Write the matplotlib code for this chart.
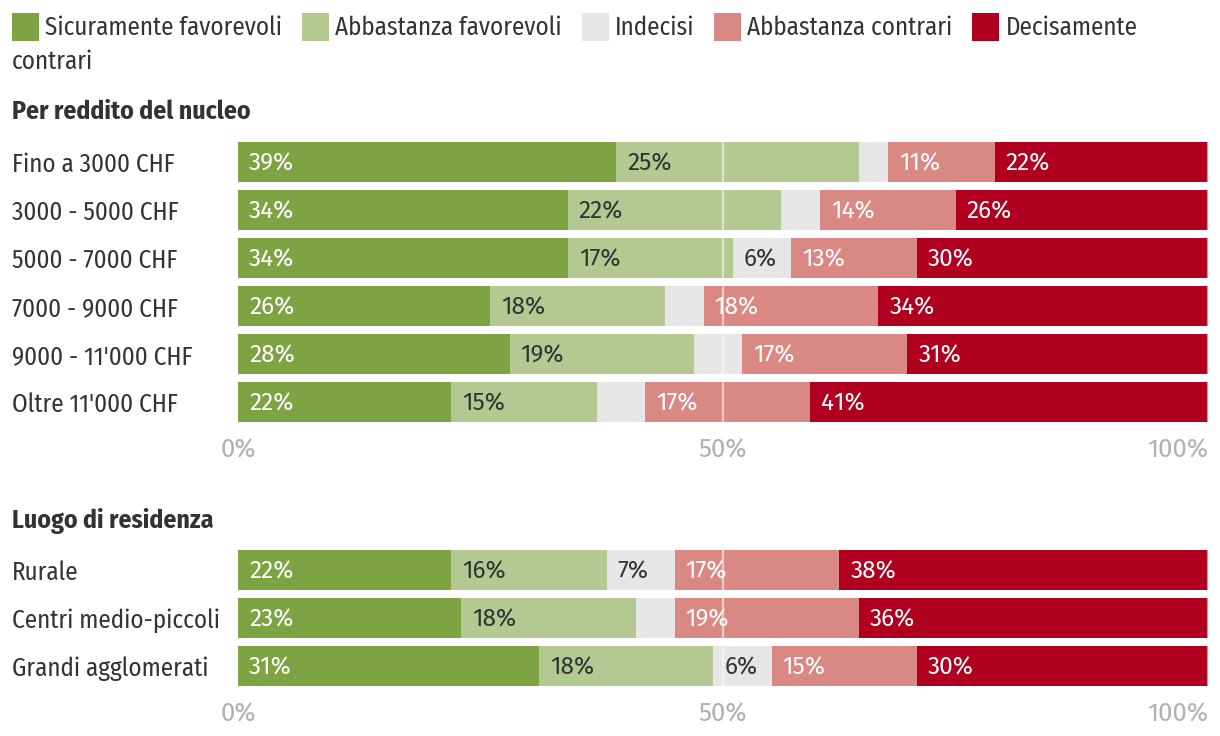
import matplotlib
matplotlib.use("Agg")
import matplotlib.pyplot as plt
from matplotlib.patches import Rectangle
from matplotlib.transforms import ScaledTranslation

plt.rcParams['font.family'] = ['Fira Sans Condensed', 'DejaVu Sans']
NUM_FONT = ['Fira Sans', 'DejaVu Sans']

# ---------------- data ----------------
series_names = ["Sicuramente favorevoli", "Abbastanza favorevoli", "Indecisi",
                "Abbastanza contrari", "Decisamente contrari"]
colors = ["#7ea343", "#b3c991", "#e6e6e6", "#da8884", "#b1001f"]
text_colors = ["white", "#333333", "#333333", "white", "white"]

income_title = "Per reddito del nucleo"
income_labels = ["Fino a 3000 CHF", "3000 - 5000 CHF", "5000 - 7000 CHF",
                 "7000 - 9000 CHF", "9000 - 11'000 CHF", "Oltre 11'000 CHF"]
income_sicuramente = [39, 34, 34, 26, 28, 22]
income_abb_favorevoli = [25, 22, 17, 18, 19, 15]
income_indecisi = [3, 4, 6, 4, 5, 5]
income_abb_contrari = [11, 14, 13, 18, 17, 17]
income_decisamente = [22, 26, 30, 34, 31, 41]

place_title = "Luogo di residenza"
place_labels = ["Rurale", "Centri medio-piccoli", "Grandi agglomerati"]
place_sicuramente = [22, 23, 31]
place_abb_favorevoli = [16, 18, 18]
place_indecisi = [7, 4, 6]
place_abb_contrari = [17, 19, 15]
place_decisamente = [38, 36, 30]

tick_values = [0, 50, 100]
tick_labels = ["0%", "50%", "100%"]

# ---------------- layout ----------------
W, H = 1220, 736
FS = 18
FS_HEAD = 18.5
FS_NUM = 17.5
FS_TICK = 18.5
DARK = "#333333"
TICK = "#b0b0b0"
PT = 72 / 100.0

fig = plt.figure(figsize=(W / 100, H / 100), dpi=100)
fig.patch.set_facecolor("white")

X0, X1 = 238, 1208
ROW = 48
BAR_H = 40


def make_axes(top_px, n):
    bottom_px = top_px + n * ROW
    return fig.add_axes([X0 / W, 1 - bottom_px / H, (X1 - X0) / W, n * ROW / H])


def draw_group(ax, labels, series):
    n = len(labels)
    ypos = list(range(n))
    left = [0] * n
    for vals, col, tcol in zip(series, colors, text_colors):
        ax.barh(ypos, vals, left=left, height=BAR_H / ROW, color=col, linewidth=0)
        for i, (v, l) in enumerate(zip(vals, left)):
            if v >= 6:
                ax.annotate(f"{v}%", xy=(l, i), xytext=(11 * PT, -1.5 * PT),
                            textcoords="offset points", ha="left", va="center",
                            color=tcol, fontsize=FS_NUM, family=NUM_FONT)
        left = [a + b for a, b in zip(left, vals)]
    ax.axvline(50, color="white", alpha=0.55, lw=1.6, zorder=5)
    ax.axvline(100, color="white", alpha=0.55, lw=1.6, zorder=5)
    ax.set_xlim(0, 100)
    ax.set_ylim(n - 0.5, -0.5)
    ax.set_yticks(ypos)
    ax.set_yticklabels(labels, fontsize=FS, color=DARK)
    shift = ScaledTranslation(0, 1.0 / 100, fig.dpi_scale_trans)
    for t in ax.get_yticklabels():
        t.set_horizontalalignment("left")
        t.set_transform(t.get_transform() + shift)
    ax.tick_params(axis="y", length=0, pad=(X0 - 12) * PT)
    ax.set_xticks(tick_values)
    ax.set_xticklabels(tick_labels, fontsize=FS_TICK, color=TICK, family=NUM_FONT)
    ax.tick_params(axis="x", length=0, pad=12 * PT)
    xl = ax.get_xticklabels()
    xl[-1].set_horizontalalignment("right")
    for s in ax.spines.values():
        s.set_visible(False)


ax1 = make_axes(138, len(income_labels))
draw_group(ax1, income_labels, [income_sicuramente, income_abb_favorevoli, income_indecisi,
                                income_abb_contrari, income_decisamente])
ax2 = make_axes(546, len(place_labels))
draw_group(ax2, place_labels, [place_sicuramente, place_abb_favorevoli, place_indecisi,
                               place_abb_contrari, place_decisamente])

fig.text(12 / W, 1 - 112 / H, income_title, fontsize=FS_HEAD, fontweight="bold",
         color=DARK, ha="left", va="center")
fig.text(12 / W, 1 - 521 / H, place_title, fontsize=FS_HEAD, fontweight="bold",
         color=DARK, ha="left", va="center")

# ---------------- legend (wrapping, html-like) ----------------
fig.canvas.draw()
renderer = fig.canvas.get_renderer()
SQ = 27
GAP_SQ = 6
GAP_ITEM = 20
LINE1 = 27
LINE_H = 34
RIGHT = 1210


def text_width(s):
    t = fig.text(0, 0, s, fontsize=FS)
    w = t.get_window_extent(renderer).width
    t.remove()
    return w


x = 12
line = 0
for name, col in zip(series_names, colors):
    cy = LINE1 + line * LINE_H
    if x + SQ + GAP_SQ + text_width(name.split()[0]) > RIGHT:
        line += 1
        x = 12
        cy = LINE1 + line * LINE_H
    fig.patches.append(Rectangle((x / W, 1 - (cy + SQ / 2) / H), SQ / W, SQ / H,
                                 transform=fig.transFigure, color=col, lw=0))
    x += SQ + GAP_SQ
    words = name.split()
    cur = ""
    for wd in words:
        trial = (cur + " " + wd).strip()
        if cur and x + text_width(trial) > RIGHT:
            fig.text(x / W, 1 - (cy + 1) / H, cur, fontsize=FS, color=DARK, ha="left", va="center")
            line += 1
            x = 12
            cy = LINE1 + line * LINE_H
            cur = wd
        else:
            cur = trial
    fig.text(x / W, 1 - (cy + 1) / H, cur, fontsize=FS, color=DARK, ha="left", va="center")
    x += text_width(cur) + GAP_ITEM

fig.savefig("out.png", dpi=100, facecolor="white")
